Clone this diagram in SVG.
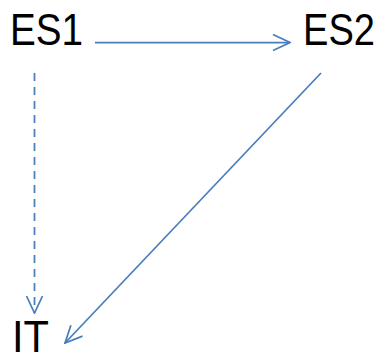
<svg xmlns="http://www.w3.org/2000/svg" width="380" height="354" viewBox="0 0 380 354">
<style>
.lbl{font-family:"Liberation Sans",Arial,sans-serif;font-size:44px;fill:#000}
.edge{stroke:#4a7ebb;stroke-width:1.75;fill:none}
</style>
<defs>
<marker id="arr" markerUnits="userSpaceOnUse" viewBox="0 0 20 20" refX="19" refY="10" markerWidth="20" markerHeight="20" orient="auto">
<path d="M2,2 L19,10 L2,18" fill="none" stroke="#4a7ebb" stroke-width="1.75"/>
</marker>
</defs>
<rect width="380" height="354" fill="#fff"/>
<g id="ES1"><text class="lbl" x="10" y="45" textLength="73" lengthAdjust="spacingAndGlyphs">ES1</text></g>
<g id="ES2"><text class="lbl" x="303" y="45" textLength="72" lengthAdjust="spacingAndGlyphs">ES2</text></g>
<g id="IT"><text class="lbl" x="12" y="352" textLength="37" lengthAdjust="spacingAndGlyphs">IT</text></g>
<g id="connectors">
<line class="edge" x1="95" y1="42.5" x2="290" y2="42.5" marker-end="url(#arr)"/>
<line class="edge" x1="34.5" y1="73" x2="34.5" y2="313" stroke-dasharray="8,6" marker-end="url(#arr)"/>
<line class="edge" x1="321" y1="73" x2="65" y2="343" marker-end="url(#arr)"/>
</g>
</svg>
